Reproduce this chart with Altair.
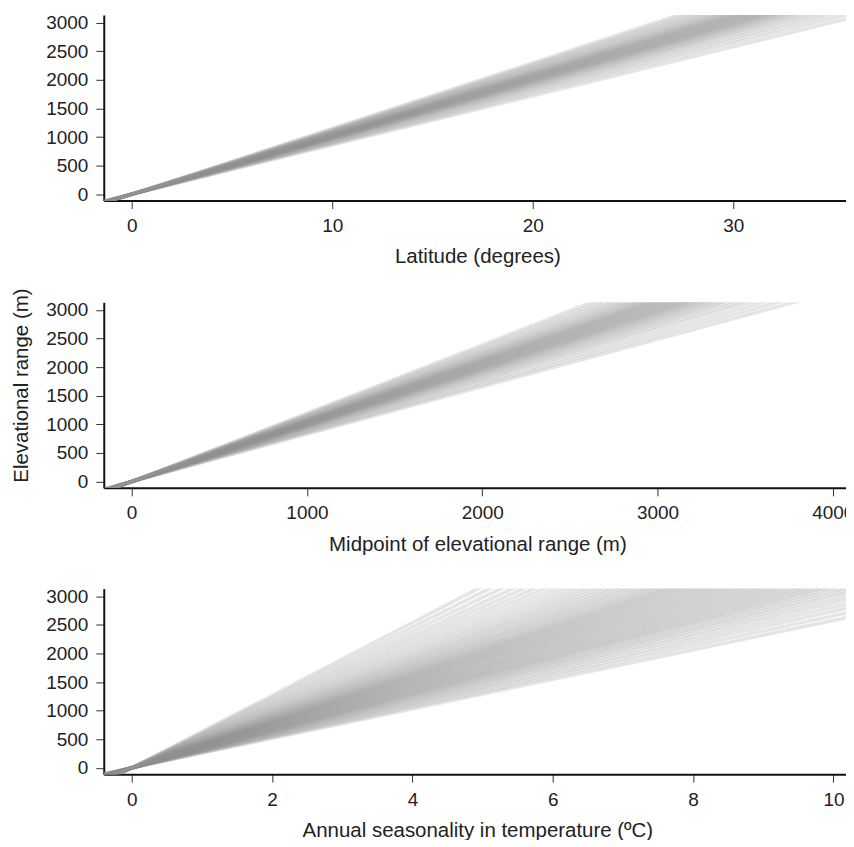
import altair as alt
import pandas as pd

# Posterior slope samples (elevational range per unit of predictor)
lat_slopes = [86, 88, 89.8, 91.4, 92.8, 94, 95, 95.9, 96.7, 97.4, 98, 98.6, 99.1, 99.6,
              100.1, 100.6, 101.1, 101.6, 102.1, 102.6, 103.1, 103.6, 104.1, 104.6,
              105.2, 105.8, 106.4, 107.1, 107.9, 108.8, 109.8, 110.9, 112.1, 113.4, 115]
mid_slopes = [0.83, 0.85, 0.87, 0.89, 0.905, 0.92, 0.932, 0.943, 0.953, 0.962, 0.97,
              0.977, 0.984, 0.99, 0.996, 1.002, 1.008, 1.014, 1.02, 1.026, 1.032, 1.038,
              1.044, 1.05, 1.056, 1.062, 1.069, 1.076, 1.084, 1.093, 1.103, 1.114,
              1.126, 1.14, 1.156, 1.174, 1.195]
seas_slopes = [258, 266, 274, 281, 288, 294, 300, 305, 310, 315, 319, 323, 327, 331,
               335, 339, 343, 347, 351, 355, 359, 363, 367, 371, 375, 379, 383, 387,
               391, 395, 399, 403, 407, 411, 415, 420, 425, 430, 436, 442, 448, 455,
               462, 470, 478, 487, 497, 508, 520, 533, 547, 562, 578, 596, 615, 635]

lat_ticks = [0, 10, 20, 30]
mid_ticks = [0, 1000, 2000, 3000, 4000]
seas_ticks = [0, 2, 4, 6, 8, 10]
y_ticks = [0, 500, 1000, 1500, 2000, 2500, 3000]

lat_domain = [-1.39, 35.87]
mid_domain = [-159, 4104]
seas_domain = [-0.398, 10.25]
y_domain = [-110, 3135]

FONT = "Liberation Sans"
W, H = 749, 186


def fan_df(slopes, domain):
    rows = []
    for i, s in enumerate(slopes):
        for xv in domain:
            rows.append({"id": i, "x": xv, "y": s * xv})
    return pd.DataFrame(rows)


def panel(slopes, domain, ticks, xtitle, ytitle=None):
    df = fan_df(slopes, domain)
    xaxis = alt.Axis(values=ticks, title=xtitle, grid=False, labelFlush=False,
                     format="d")
    yargs = dict(values=y_ticks, grid=False, labelFlush=False, format="d")
    if ytitle:
        yargs["title"] = ytitle
        yargs["titleY"] = 83
    else:
        yargs["title"] = ""
    return alt.Chart(df).mark_line(
        clip=True, color="#939393", opacity=0.24, strokeWidth=3.5
    ).encode(
        x=alt.X("x:Q", scale=alt.Scale(domain=domain, nice=False, zero=False), axis=xaxis),
        y=alt.Y("y:Q", scale=alt.Scale(domain=y_domain, nice=False, zero=False), axis=alt.Axis(**yargs)),
        detail="id:N",
    ).properties(width=W, height=H)


p1 = panel(lat_slopes, lat_domain, lat_ticks, "Latitude (degrees)")
p2 = panel(mid_slopes, mid_domain, mid_ticks, "Midpoint of elevational range (m)",
           "Elevational range (m)")
p3 = panel(seas_slopes, seas_domain, seas_ticks, "Annual seasonality in temperature (ºC)")

chart = alt.vconcat(alt.vconcat(p1, p2, spacing=20), p3, spacing=32).properties(
    padding={"left": 3, "top": 4, "right": -8, "bottom": -2}
).configure(
    background="white"
).configure_view(stroke=None).configure_axis(
    domainColor="#111", domainWidth=2, tickColor="#333", tickWidth=1, tickSize=8,
    labelFont=FONT, titleFont=FONT, labelFontSize=19, titleFontSize=20.5,
    labelColor="#222", titleColor="#222", titleFontWeight="normal",
    labelPadding=8,
).configure_axisX(titlePadding=11.5).configure_axisY(titlePadding=14)

chart.save("out.html", embed_options={"renderer": "svg", "actions": False})
